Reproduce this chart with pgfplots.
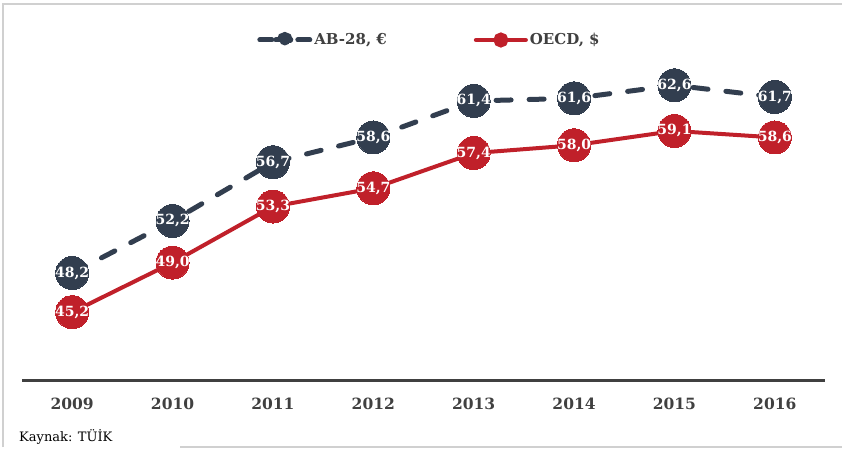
\documentclass[border=0pt]{standalone}
\usepackage{fontspec}
\setmainfont{DejaVu Serif}
\usepackage{pgfplots}
\usepackage{pgfplotstable}
\pgfplotsset{compat=1.18}
\definecolor{abcol}{HTML}{323E4F}
\definecolor{oecdcol}{HTML}{C0202A}
\definecolor{axcol}{HTML}{404040}
\definecolor{framecol}{HTML}{D0D0D0}
\pgfplotstableread{
x y lab
0 48.2 {48,2}
1 52.2 {52,2}
2 56.7 {56,7}
3 58.6 {58,6}
4 61.4 {61,4}
5 61.6 {61,6}
6 62.6 {62,6}
7 61.7 {61,7}
}\abdata
\pgfplotstableread{
x y lab
0 45.2 {45,2}
1 49.0 {49,0}
2 53.3 {53,3}
3 54.7 {54,7}
4 57.4 {57,4}
5 58.0 {58,0}
6 59.1 {59,1}
7 58.6 {58,6}
}\oecddata
\begin{document}
\begin{tikzpicture}[x=1pt,y=1pt]
\useasboundingbox (0,0) rectangle (842,450);
\draw[framecol,line width=2pt] (3,3) -- (3,446) -- (842,446);
\draw[framecol,line width=2pt] (180,3) -- (842,3);
\begin{axis}[
  at={(22pt,70pt)}, anchor=south west,
  scale only axis, width=803pt, height=326pt,
  xmin=-0.5, xmax=7.5, ymin=40, ymax=65,
  clip=false,
  axis x line=bottom, axis y line=none,
  axis line style={line width=3pt, color=axcol, -},
  xtick={0,...,7},
  xticklabels={2009,2010,2011,2012,2013,2014,2015,2016},
  major tick length=0pt,
  xticklabel style={anchor=center, yshift=-24pt, font=\fontsize{15.5}{17}\selectfont\bfseries, text=axcol},
  legend columns=2,
  legend style={draw=none, at={(axis description cs:0.5,1)}, anchor=center, yshift=14pt, xshift=6pt,
    font=\fontsize{15}{17}\selectfont\bfseries, text=axcol,
    /tikz/every even column/.append style={column sep=85pt},
    /tikz/every odd column/.append style={column sep=0pt},
    cells={anchor=west}, inner xsep=0pt},
  nodes near coords,
  point meta=explicit symbolic,
  every node near coord/.append style={anchor=center, inner sep=0pt, text=white, font=\fontsize{14}{16}\selectfont\bfseries},
]
\addplot[abcol, line width=5pt, dash pattern=on 15pt off 18pt, line cap=round,
  mark=*, mark size=16.5pt, mark options={solid, fill=abcol, draw=abcol, line width=0pt},
  legend image code/.code={\draw[abcol,line width=5pt,line cap=round] (0pt,0pt) -- (12pt,0pt);
    \draw[abcol,line width=5pt,line cap=round] (38pt,0pt) -- (50pt,0pt);
    \draw[abcol,line width=5pt] (16pt,0pt) -- (34pt,0pt);
    \fill[abcol] (25pt,0pt) circle (5.5pt);}]
  table[x=x,y=y,meta=lab] {\abdata};
\addlegendentry{AB-28, €}
\addplot[oecdcol, line width=4pt,
  mark=*, mark size=16.5pt, mark options={solid, fill=oecdcol, draw=oecdcol, line width=0pt},
  legend image code/.code={\draw[oecdcol,line width=4pt,line cap=round] (0pt,0pt) -- (50pt,0pt);
    \fill[oecdcol] (25pt,0pt) circle (5.5pt);}]
  table[x=x,y=y,meta=lab] {\oecddata};
\addlegendentry{OECD, \$}
\end{axis}
\node[anchor=west, font=\fontsize{13}{15}\selectfont, inner sep=0pt] at (19,13) {Kaynak: TÜİK};
\end{tikzpicture}
\end{document}
